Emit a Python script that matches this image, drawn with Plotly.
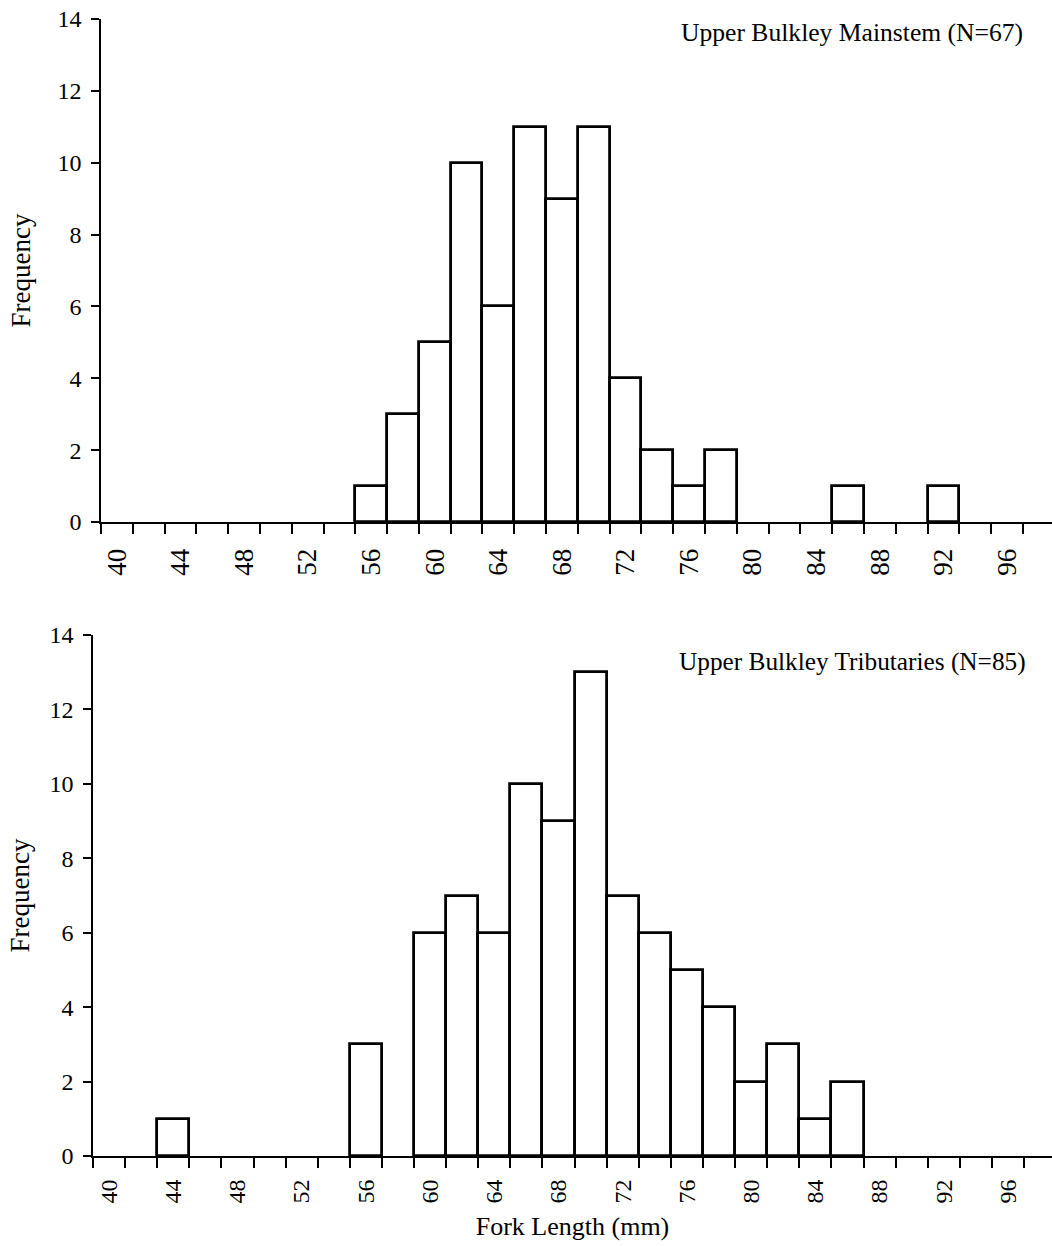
import plotly.graph_objects as go

# Fork length bins (mm, 2 mm classes) and counts per panel
mainstem_bins = [56, 58, 60, 62, 64, 66, 68, 70, 72, 74, 76, 78, 86, 92]
mainstem_counts = [1, 3, 5, 10, 6, 11, 9, 11, 4, 2, 1, 2, 1, 1]

trib_bins = [44, 56, 60, 62, 64, 66, 68, 70, 72, 74, 76, 78, 80, 82, 84, 86]
trib_counts = [1, 3, 6, 7, 6, 10, 9, 13, 7, 6, 5, 4, 2, 3, 1, 2]

label_vals = list(range(40, 97, 4))
boundary_vals = list(range(39, 99, 2))
freq_ticks = list(range(0, 15, 2))

W, H = 1052, 1246
FONT = "Liberation Serif, Times New Roman, serif"

fig = go.Figure()

bar_style = dict(color="white", line=dict(color="black", width=2.8))
fig.add_trace(go.Bar(x=mainstem_bins, y=mainstem_counts, width=2,
                     marker=bar_style, xaxis="x", yaxis="y", showlegend=False))
fig.add_trace(go.Bar(x=trib_bins, y=trib_counts, width=2,
                     marker=bar_style, xaxis="x2", yaxis="y2", showlegend=False))


def xaxis(left_px, rng, size, standoff, title=None):
    d = dict(
        domain=[left_px / W, 1], range=rng, showgrid=False, zeroline=False,
        automargin=False,
        showline=True, linecolor="black", linewidth=2,
        tickmode="array", tickvals=label_vals, ticktext=[str(v) for v in label_vals],
        ticks="", tickangle=-90, ticklabelstandoff=standoff,
        tickfont=dict(family=FONT, size=size, color="black"),
        minor=dict(tickmode="array", tickvals=boundary_vals, ticks="outside",
                   ticklen=10, tickwidth=1.5, tickcolor="black", showgrid=False),
    )
    if title:
        d["title"] = dict(text=title, standoff=14,
                          font=dict(family=FONT, size=26, color="black"))
    return d


def yaxis(bottom_px, top_px, anchor, title_standoff):
    return dict(
        domain=[1 - bottom_px / H, 1 - top_px / H], range=[0, 14], anchor=anchor,
        showgrid=False, zeroline=False, automargin=False,
        showline=True, linecolor="black",
        linewidth=1.5, tickmode="array", tickvals=freq_ticks,
        ticks="outside", ticklen=8, tickwidth=1.5, tickcolor="black",
        ticklabelstandoff=5,
        tickfont=dict(family=FONT, size=24, color="black"),
        title=dict(text="Frequency", standoff=title_standoff,
                   font=dict(family=FONT, size=27, color="black")),
    )


fig.update_layout(
    width=W, height=H,
    margin=dict(l=0, r=0, t=0, b=0),
    paper_bgcolor="white", plot_bgcolor="white",
    bargap=0,
    xaxis=xaxis(101, [39, 98.83], 27, 14) | dict(anchor="y"),
    yaxis=yaxis(522, 19, "x", 19),
    xaxis2=xaxis(93, [39, 98.74], 24, 12, "Fork Length (mm)") | dict(anchor="y2"),
    yaxis2=yaxis(1156, 635, "x2", 12),
    annotations=[
        dict(text="Upper Bulkley Mainstem (N=67)", xref="paper", yref="paper",
             x=1025 / W, y=1 - 33 / H, xanchor="right", yanchor="middle",
             showarrow=False, font=dict(family=FONT, size=25.6, color="black")),
        dict(text="Upper Bulkley Tributaries (N=85)", xref="paper", yref="paper",
             x=1028 / W, y=1 - 661 / H, xanchor="right", yanchor="middle",
             showarrow=False, font=dict(family=FONT, size=25.3, color="black")),
    ],
)

fig.write_html("out.html")
